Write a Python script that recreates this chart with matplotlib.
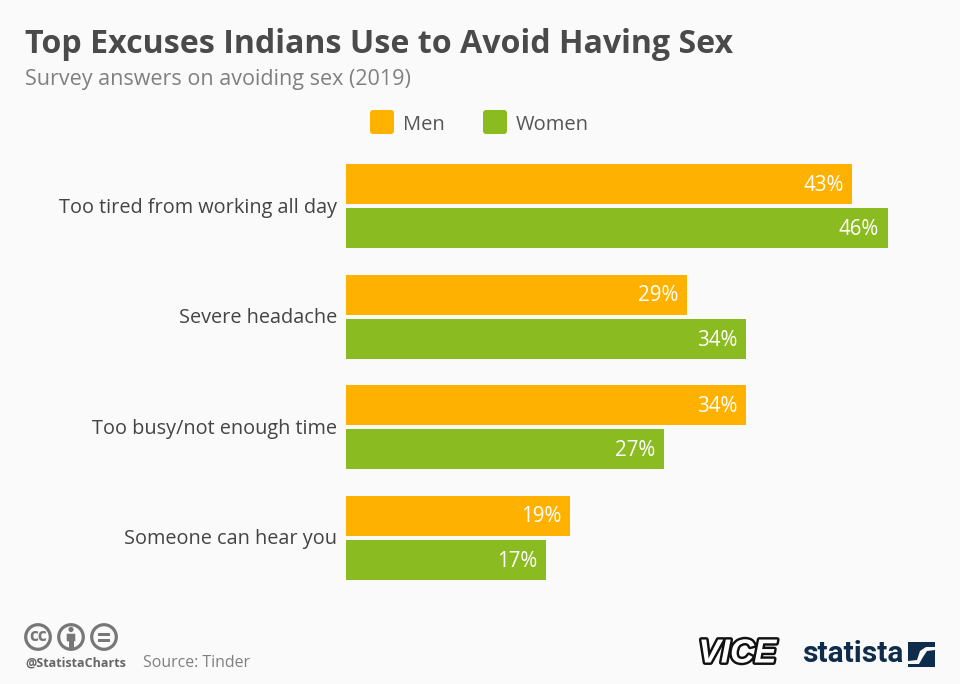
import numpy as np
import matplotlib
matplotlib.use('Agg')
import matplotlib.pyplot as plt
import matplotlib.patheffects as pe
from matplotlib.patches import Circle, FancyBboxPatch, Polygon, Rectangle
from matplotlib.transforms import ScaledTranslation

# --- data ---
categories = ['Too tired from working all day', 'Severe headache',
              'Too busy/not enough time', 'Someone can hear you']
men = [43, 29, 34, 19]
women = [46, 34, 27, 17]
series_names = ['Men', 'Women']

plt.rcParams['font.family'] = ['Open Sans', 'DejaVu Sans']

W, H = 960, 684
ORANGE = '#ffb100'
GREEN = '#8abb21'
BG = '#fafafa'
NAVY = '#0f2d4a'
ICON = '#777777'

fig = plt.figure(figsize=(W/100, H/100), dpi=100, facecolor=BG)

# axes in pixel box: x from 346 to 937, y from 151 to 593
ax = fig.add_axes([346/W, 1-593/H, (937-346)/W, (593-151)/H], facecolor='none')
y = np.arange(len(categories))
bar_h = 40/110.7
off = 22.2/110.7

for i, (m, w) in enumerate(zip(men, women)):
    ax.barh(i-off, m, height=bar_h, color=ORANGE)
    ax.barh(i+off, w, height=bar_h, color=GREEN)
    ax.annotate(f'{m}%', (m, i-off), xytext=(-6.2, -1), textcoords='offset points',
                color='white', fontsize=14.8, ha='right', va='center')
    ax.annotate(f'{w}%', (w, i+off), xytext=(-6.2, -1), textcoords='offset points',
                color='white', fontsize=14.8, ha='right', va='center')

ax.set_xlim(0, 50.2)
ax.set_ylim(len(categories)-0.5, -0.5)
ax.set_yticks(y)
ax.set_yticklabels(categories, fontsize=14.35, color='#444444')
ax.tick_params(axis='y', length=0, pad=6.5)
# nudge category labels up a pixel
for lab in ax.get_yticklabels():
    lab.set_transform(lab.get_transform() + ScaledTranslation(0, 1/100, fig.dpi_scale_trans))
ax.xaxis.set_visible(False)
for s in ax.spines.values():
    s.set_visible(False)

# overlay in pixel coords for title, legend, footer
ov = fig.add_axes([0, 0, 1, 1], facecolor='none')
ov.set_xlim(0, W)
ov.set_ylim(H, 0)
ov.axis('off')

ov.text(25, 44.5, 'Top Excuses Indians Use to Avoid Having Sex', fontsize=23.1,
        fontweight='bold', color='#4a4a4a', va='center')
ov.text(25, 79, 'Survey answers on avoiding sex (2019)', fontsize=15.5,
        color='#808080', va='center')

# legend
for x0, name, c in zip([370, 483], series_names, [ORANGE, GREEN]):
    ov.add_patch(FancyBboxPatch((x0+2, 112), 20, 20, boxstyle='round,pad=2,rounding_size=3',
                                fc=c, ec='none'))
    ov.text(x0+33, 124.5, name, fontsize=14.5, color='#555555', va='center')

# cc icons
for cx in [38, 71, 104]:
    ov.add_patch(Circle((cx, 637), 12.3, fc='none', ec=ICON, lw=2.3))
ov.text(38, 636, 'cc', fontsize=12.5, fontweight='bold', color=ICON, ha='center', va='center')
ov.add_patch(Circle((71, 629.5), 2.6, fc=ICON, ec='none'))
ov.add_patch(FancyBboxPatch((67, 634), 8, 7, boxstyle='round,pad=0.3', fc=ICON, ec='none'))
ov.add_patch(Rectangle((68.5, 640), 5, 7.5, fc=ICON, ec='none'))
ov.add_patch(Rectangle((98, 632.5), 12, 3, fc=ICON, ec='none'))
ov.add_patch(Rectangle((98, 638.5), 12, 3, fc=ICON, ec='none'))

ov.text(25.5, 663, '@StatistaCharts', fontsize=9, fontweight='bold', color='#666666', va='center')
ov.text(143, 663, 'Source: Tinder', fontsize=11.4, color='#808080', va='center')

# logos
ov.text(737.5, 654, 'VICE', fontsize=24, fontweight='bold', style='italic', color='white',
        ha='center', va='center', family=['Liberation Sans', 'DejaVu Sans'],
        path_effects=[pe.withStroke(linewidth=3.5, foreground='#111111')])
ov.text(853, 654, 'statista', fontsize=21.5, fontweight='bold', color=NAVY,
        ha='center', va='center', family=['Roboto', 'DejaVu Sans'])
ov.add_patch(Rectangle((908, 642), 27, 25, fc=NAVY, ec='none'))
# white swoosh across the square
ov.add_patch(Polygon([(935, 647), (926, 647), (920, 651), (917, 660), (908, 661), (908, 664),
                      (919, 664), (923, 657), (927, 651), (935, 650)], fc=BG, ec='none'))

fig.savefig('out.png', dpi=100, facecolor=BG)
